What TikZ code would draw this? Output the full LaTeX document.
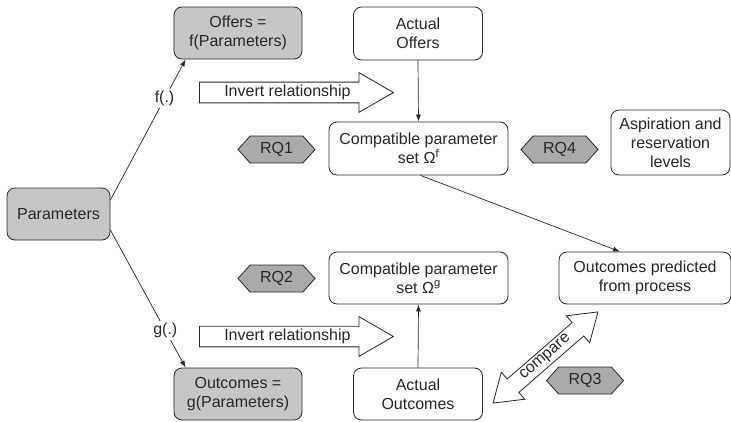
\documentclass[tikz,border=0pt]{standalone}
\usepackage{fontspec}
\setmainfont{Liberation Sans}
\usetikzlibrary{shapes.symbols, shapes.arrows, arrows.meta, positioning}
\definecolor{boxgray}{RGB}{198,198,198}
\definecolor{rqgray}{RGB}{170,170,170}
\definecolor{linegray}{RGB}{40,40,40}

\tikzset{
  basebox/.style={draw=linegray, rounded corners=8pt, align=center, inner sep=0pt,
    line width=0.8pt, text=linegray, font=\fontsize{16}{19}\selectfont},
  whitebox/.style={basebox, fill=white},
  graybox/.style={basebox, fill=boxgray},
  rqtag/.style={signal, signal to=west and east, signal pointer angle=96,
    draw=linegray, fill=rqgray, line width=0.8pt, inner sep=0pt,
    minimum width=77pt, minimum height=27pt, text=linegray,
    font=\fontsize{16}{19}\selectfont},
  invarrow/.style={single arrow, draw=linegray, fill=white, line width=0.8pt,
    single arrow head extend=9.5pt, single arrow tip angle=60, inner ysep=2.5pt,
    minimum height=194pt, text=linegray, font=\fontsize{16}{19}\selectfont},
  cmparrow/.style={double arrow, draw=linegray, fill=white, line width=0.8pt,
    double arrow head extend=9pt, double arrow tip angle=68, inner ysep=2.5pt,
    minimum height=139pt, text=linegray, font=\fontsize{16}{19}\selectfont},
  conn/.style={draw=linegray, line width=0.7pt, -{Latex[length=7pt,width=5pt]}},
  fnlabel/.style={fill=white, inner sep=2pt, text=linegray, font=\fontsize{16}{19}\selectfont}
}

\begin{document}
\begin{tikzpicture}[x=1pt, y=-1pt]
  \useasboundingbox (0,0) rectangle (731,421);

  % Left column
  \node[graybox, minimum width=103pt, minimum height=52pt] (params) at (58.5,214) {Parameters};
  \node[graybox, minimum width=128pt, minimum height=52pt] (offers) at (238,33) {Offers =\\f(Parameters)};
  \node[graybox, minimum width=128pt, minimum height=52pt] (outc) at (238,394) {Outcomes =\\g(Parameters)};

  % Middle column
  \node[whitebox, minimum width=129pt, minimum height=53pt] (actoff) at (418,33.5) {Actual\\Offers};
  \node[whitebox, minimum width=179pt, minimum height=53pt] (compf) at (418.5,148.5) {Compatible parameter\\set Ω\textsuperscript{f}};
  \node[whitebox, minimum width=179pt, minimum height=52pt] (compg) at (418.5,278) {Compatible parameter\\set Ω\textsuperscript{g}};
  \node[whitebox, minimum width=129pt, minimum height=52pt] (actout) at (418,394) {Actual\\Outcomes};

  % Right column
  \node[whitebox, minimum width=119pt, minimum height=65pt] (aspir) at (670.5,142.5) {Aspiration and\\reservation\\levels};
  \node[whitebox, minimum width=172pt, minimum height=52pt] (pred) at (645,278) {Outcomes predicted\\from process};

  % Research questions
  \node[rqtag] (rq1) at (276.5,149.5) {RQ1};
  \node[rqtag] (rq2) at (276.5,278.5) {RQ2};
  \node[rqtag] (rq3) at (585,380.5) {RQ3};
  \node[rqtag] (rq4) at (559.5,149.5) {RQ4};

  % Inversion arrows
  \node[invarrow, anchor=west] (invf) at (199,92.5) {Invert relationship};
  \node[invarrow, anchor=west] (invg) at (199,336.5) {Invert relationship};

  % Comparison
  \node[cmparrow, rotate=41] (cmp) at (545.5,357.5) {compare};

  % Connectors
  \draw[conn] ([yshift=14pt]params.east) -- node[fnlabel, pos=0.72] (flbl) {f(.)} ([xshift=12pt]offers.south west);
  \draw[conn] ([yshift=-16pt]params.east) -- node[fnlabel, pos=0.73] (glbl) {g(.)} ([xshift=12pt]outc.north west);
  \draw[conn] (actoff.south) -- (compf.north);
  \draw[conn] (actout.north) -- (compg.south);
  \draw[conn] ([xshift=2pt]compf.south) -- ([xshift=-25pt]pred.north);
\end{tikzpicture}
\end{document}
